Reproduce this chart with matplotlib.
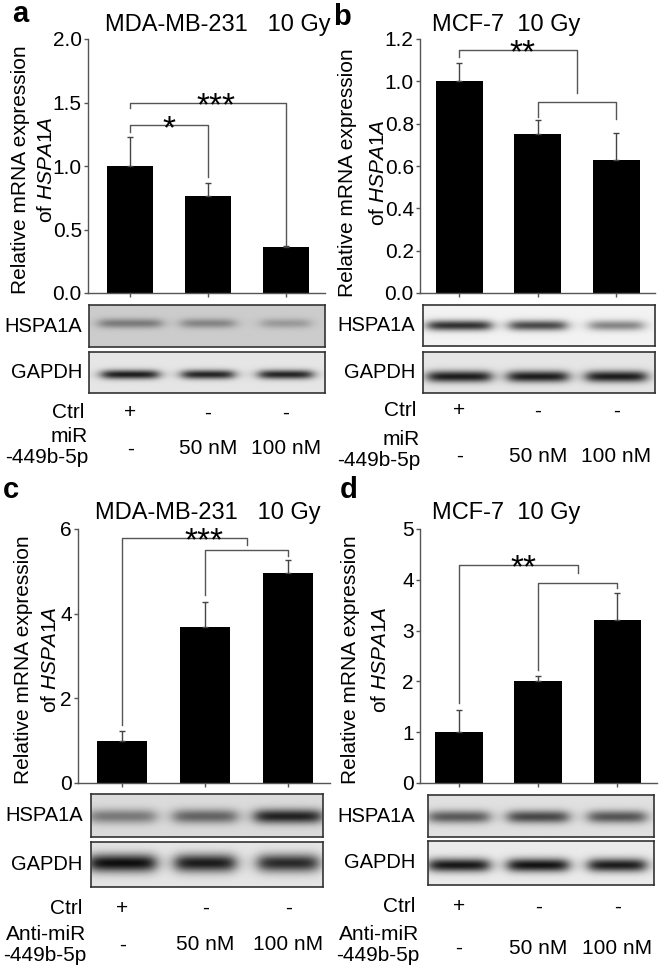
import numpy as np
import matplotlib
matplotlib.use("Agg")
import matplotlib.pyplot as plt
from matplotlib.transforms import blended_transform_factory

W, H = 669, 969
plt.rcParams["font.family"] = ["Liberation Sans", "DejaVu Sans"]
plt.rcParams["mathtext.fontset"] = "custom"
plt.rcParams["mathtext.rm"] = "Liberation Sans"
plt.rcParams["mathtext.it"] = "Liberation Sans:italic"

# data
lanes = [0, 1, 2]
ctrl_row = ["+", "-", "-"]
dose_row = ["-", "50 nM", "100 nM"]

a_mean = [1.0, 0.76, 0.36]
a_err = [0.23, 0.11, 0.01]
b_mean = [1.0, 0.75, 0.63]
b_err = [0.085, 0.065, 0.125]
c_mean = [1.0, 3.69, 4.96]
c_err = [0.23, 0.59, 0.31]
d_mean = [1.0, 2.0, 3.2]
d_err = [0.43, 0.10, 0.54]

# brackets: (x1, x2, y, leg1 bottom, leg2 bottom)
a_brackets = [(0, 1, 1.32, 1.27, 0.91), (0, 2, 1.50, 1.46, 0.38)]
a_stars = [(0.5, 1.32, "*"), (1.1, 1.50, "***")]
b_brackets = [(0, 1.5, 1.148, 1.115, 0.945), (1, 2, 0.90, 0.83, 0.82)]
b_stars = [(0.8, 1.148, "**")]
c_brackets = [(0, 1.5, 5.79, 1.37, 5.62), (1, 2, 5.50, 4.44, 5.37)]
c_stars = [(0.98, 5.79, "***")]
d_brackets = [(0, 1.5, 4.29, 1.57, 4.13), (1, 2, 3.94, 2.22, 3.84)]
d_stars = [(0.81, 4.29, "**")]

# blot band darkness per lane (0 = none, 1 = black)
a_hsp = [0.40, 0.35, 0.25]
a_gapdh = [0.88, 0.85, 0.85]
b_hsp = [0.80, 0.70, 0.45]
b_gapdh = [0.88, 0.88, 0.88]
c_hsp = [0.45, 0.55, 0.85]
c_gapdh = [0.94, 0.88, 0.82]
d_hsp = [0.60, 0.68, 0.62]
d_gapdh = [0.90, 0.92, 0.88]

fig = plt.figure(figsize=(W / 100, H / 100), dpi=100)
fig.patch.set_facecolor("white")
LINE = "#555555"


def rect(l, t, r, b):
    return [l / W, 1 - b / H, (r - l) / W, (b - t) / H]


def fy(y):
    return 1 - y / H


def bar_panel(box, xlim, ylim, yticks, fmt, means, errs, brackets, stars):
    ax = fig.add_axes(rect(*box))
    ax.bar(lanes, means, width=0.6, color="black", zorder=2)
    ax.errorbar(lanes, means, yerr=[np.zeros(3), errs], fmt="none",
                ecolor="#444444", elinewidth=1, capsize=2.5, capthick=1, zorder=3)
    for x1, x2, y, l1, l2 in brackets:
        ax.plot([x1, x1, x2, x2], [l1, y, y, l2], color=LINE, lw=1, clip_on=False)
    for x, y, s in stars:
        ax.annotate(s, xy=(x, y), xytext=(0, -9), textcoords="offset points",
                    ha="center", va="baseline", fontsize=24, annotation_clip=False)
    ax.set_xlim(xlim)
    ax.set_ylim(ylim)
    ax.set_yticks(yticks)
    ax.set_yticklabels([fmt % t for t in yticks], fontsize=15)
    ax.set_xticks(lanes)
    ax.set_xticklabels([])
    ax.tick_params(axis="both", length=3, width=1, color=LINE, pad=1.5)
    for s in ["top", "right"]:
        ax.spines[s].set_visible(False)
    for s in ["left", "bottom"]:
        ax.spines[s].set_color(LINE)
        ax.spines[s].set_linewidth(1)
    return ax


def blot(ax_bar, bar_box, box, bg, dark, hw, yc, sig, label, label_x):
    l, t, r, b = box
    x0, x1 = ax_bar.get_xlim()
    L, R = bar_box[0], bar_box[2]
    bx0 = x0 + (l - L) / (R - L) * (x1 - x0)
    bx1 = x0 + (r - L) / (R - L) * (x1 - x0)
    ax = fig.add_axes(rect(*box))
    X, Y = np.meshgrid(np.linspace(bx0, bx1, 400), np.linspace(0, 1, 80))
    img = np.ones_like(X)
    for p, d, w in zip(lanes, dark, hw):
        hp = 1 / (1 + np.exp(-(w - np.abs(X - p)) / 0.05))
        vp = np.exp(-0.5 * ((Y - yc) / sig) ** 2)
        img *= 1 - d * hp * vp
    ax.imshow(bg * img, cmap="gray", vmin=0, vmax=1, extent=(bx0, bx1, 1, 0),
              aspect="auto", interpolation="bilinear")
    ax.set_xticks([])
    ax.set_yticks([])
    for s in ax.spines.values():
        s.set_color("#333333")
        s.set_linewidth(1.2)
    fig.text(label_x / W, fy((t + b) / 2), label, ha="right", va="center", fontsize=14.5)


def rows(ax, ctrl_y, dose_y, lab_y, lab_x, lab):
    tr = blended_transform_factory(ax.transData, fig.transFigure)
    for x, c, d in zip(lanes, ctrl_row, dose_row):
        fig.text(x, fy(ctrl_y), c, transform=tr, ha="center", va="center", fontsize=15)
        fig.text(x, fy(dose_y), d, transform=tr, ha="center", va="center", fontsize=15)
    fig.text(lab_x / W, fy(ctrl_y), "Ctrl", ha="right", va="center", fontsize=15)
    fig.text(lab_x / W + 4 / W, fy(lab_y), lab, ha="right", va="center",
             fontsize=15, multialignment="right", linespacing=1.1)


def ylabel(x1, x2, y):
    fig.text(x1 / W, fy(y), "Relative mRNA expression", rotation=90,
             ha="center", va="center", fontsize=15)
    fig.text(x2 / W, fy(y), r"of $\it{HSPA1A}$", rotation=90,
             ha="center", va="center", fontsize=15)


# panel a
box_a = (88, 39, 325, 293)
ax_a = bar_panel(box_a, (-0.54, 2.5), (0, 2.0), [0, 0.5, 1.0, 1.5, 2.0], "%.1f",
                 a_mean, a_err, a_brackets, a_stars)
blot(ax_a, box_a, (89, 305, 325, 347), 0.80, a_hsp, [0.40, 0.34, 0.31], 0.45, 0.08, "HSPA1A", 82)
blot(ax_a, box_a, (89, 352, 325, 393), 0.90, a_gapdh, [0.36, 0.33, 0.34], 0.55, 0.08, "GAPDH", 82)
rows(ax_a, 413, 449, 447, 84, "miR\n-449b-5p")
ylabel(21, 46, 170)

# panel b
box_b = (420, 39, 655, 293)
ax_b = bar_panel(box_b, (-0.50, 2.49), (0, 1.2), [0, 0.2, 0.4, 0.6, 0.8, 1.0, 1.2], "%.1f",
                 b_mean, b_err, b_brackets, b_stars)
blot(ax_b, box_b, (423, 305, 655, 346), 0.95, b_hsp, [0.40, 0.36, 0.34], 0.50, 0.09, "HSPA1A", 415)
blot(ax_b, box_b, (423, 352, 655, 393), 0.90, b_gapdh, [0.40, 0.38, 0.38], 0.60, 0.10, "GAPDH", 415)
rows(ax_b, 411, 456, 450, 416, "miR\n-449b-5p")
ylabel(348, 378, 173)

# panel c
box_c = (78, 529, 330, 783)
ax_c = bar_panel(box_c, (-0.53, 2.5), (0, 6), [0, 2, 4, 6], "%d",
                 c_mean, c_err, c_brackets, c_stars)
blot(ax_c, box_c, (91, 794, 323, 837), 0.86, c_hsp, [0.40, 0.38, 0.40], 0.52, 0.12, "HSPA1A", 83)
blot(ax_c, box_c, (91, 842, 323, 887), 0.90, c_gapdh, [0.40, 0.36, 0.36], 0.48, 0.14, "GAPDH", 82)
rows(ax_c, 908, 945, 945, 82, "Anti-miR\n-449b-5p")
ylabel(24, 50, 660)

# panel d
box_d = (420, 529, 657, 783)
ax_d = bar_panel(box_d, (-0.49, 2.5), (0, 5), [0, 1, 2, 3, 4, 5], "%d",
                 d_mean, d_err, d_brackets, d_stars)
blot(ax_d, box_d, (428, 795, 654, 837), 0.88, d_hsp, [0.38, 0.38, 0.36], 0.52, 0.11, "HSPA1A", 415)
blot(ax_d, box_d, (428, 841, 654, 885), 0.92, d_gapdh, [0.38, 0.38, 0.36], 0.55, 0.11, "GAPDH", 415)
rows(ax_d, 907, 948, 945, 415, "Anti-miR\n-449b-5p")
ylabel(350, 380, 660)

# titles and panel letters
fig.text(105 / W, fy(25), "MDA-MB-231   10 Gy", ha="left", va="center", fontsize=17)
fig.text(432 / W, fy(25), "MCF-7  10 Gy", ha="left", va="center", fontsize=17)
fig.text(95 / W, fy(513), "MDA-MB-231   10 Gy", ha="left", va="center", fontsize=17)
fig.text(432 / W, fy(513), "MCF-7  10 Gy", ha="left", va="center", fontsize=17)
for x, y, s in [(12, 22, "a"), (333, 25, "b"), (3, 498, "c"), (340, 498, "d")]:
    fig.text(x / W, fy(y), s, ha="left", va="baseline", fontsize=21, fontweight="bold")

fig.savefig("out.png", dpi=100)
